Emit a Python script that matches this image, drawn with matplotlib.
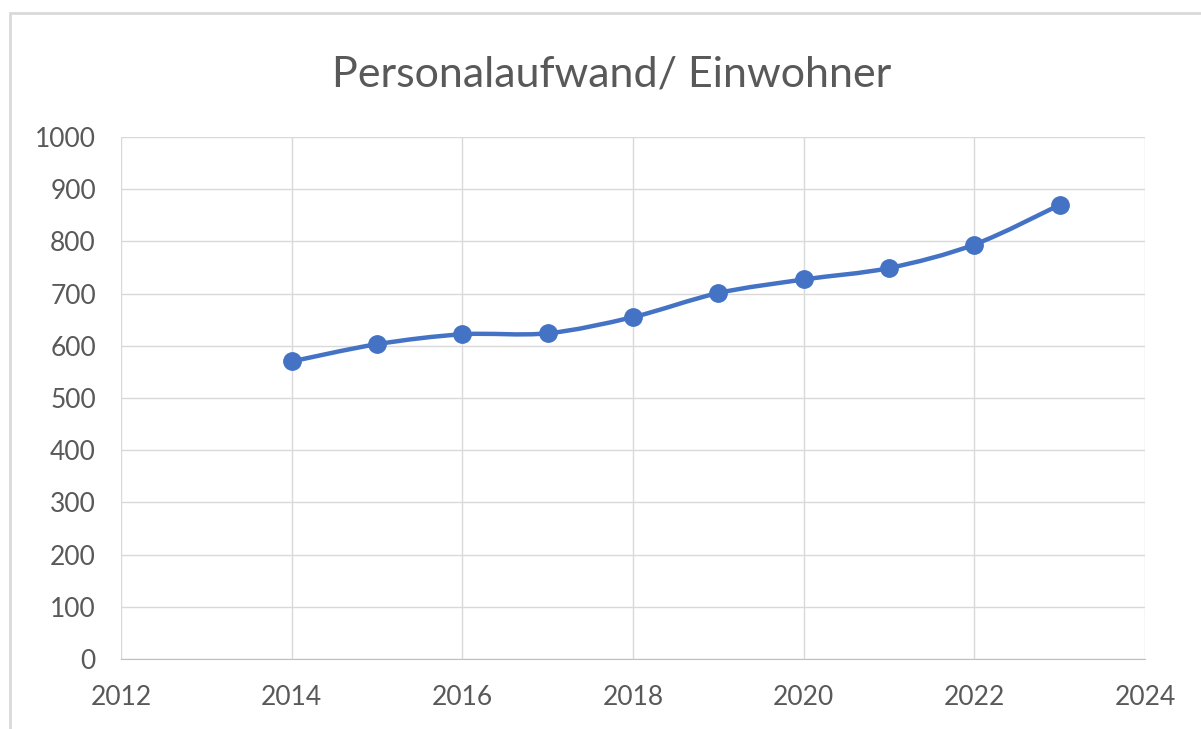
import numpy as np
import matplotlib.pyplot as plt
from matplotlib.path import Path
from matplotlib.patches import PathPatch, Rectangle

years = [2014, 2015, 2016, 2017, 2018, 2019, 2020, 2021, 2022, 2023]
values = [570, 603, 622, 624, 655, 701, 727, 749, 794, 870]
title = 'Personalaufwand/ Einwohner'

blue = '#4472C4'
grid = '#D9D9D9'
text = '#595959'

plt.rcParams['font.family'] = ['Lato', 'DejaVu Sans']


def smooth_path(x, y):
    # Catmull-Rom style Bezier segments, like Excel's "smoothed line"
    x = np.asarray(x, float)
    y = np.asarray(y, float)
    px = np.concatenate([[x[0]], x, [x[-1]]])
    py = np.concatenate([[y[0]], y, [y[-1]]])
    verts = [(x[0], y[0])]
    codes = [Path.MOVETO]
    for i in range(1, len(x)):
        c1 = (px[i] + (px[i + 1] - px[i - 1]) / 6, py[i] + (py[i + 1] - py[i - 1]) / 6)
        c2 = (px[i + 1] - (px[i + 2] - px[i]) / 6, py[i + 1] - (py[i + 2] - py[i]) / 6)
        verts += [c1, c2, (x[i], y[i])]
        codes += [Path.CURVE4] * 3
    return Path(verts, codes)


fig = plt.figure(figsize=(12.01, 7.29), dpi=100)
ax = fig.add_axes([0.1007, 0.0960, 0.8527, 0.7161])

ax.add_patch(PathPatch(smooth_path(years, values), facecolor='none',
                       edgecolor=blue, lw=3.2, capstyle='round', zorder=3))
ax.plot(years, values, 'o', color=blue, markersize=12.5, zorder=4)

ax.set_xlim(2012, 2024)
ax.set_ylim(0, 1000)
ax.set_xticks(range(2012, 2025, 2))
ax.set_yticks(range(0, 1001, 100))
ax.grid(True, color=grid, lw=1)
ax.set_axisbelow(True)
for s in ['top', 'right', 'left']:
    ax.spines[s].set_visible(False)
ax.spines['bottom'].set_color('#BFBFBF')
ax.tick_params(length=0, labelsize=19, labelcolor=text)
ax.tick_params(axis='x', pad=19)
ax.tick_params(axis='y', pad=18)

fig.text(0.509, 0.898, title, ha='center', va='center', fontsize=31, color=text)

fig.patches.append(Rectangle((10 / 1201, -0.1), 1.2, 1.1 - 13 / 729,
                             transform=fig.transFigure, fill=False,
                             edgecolor=grid, lw=2))

fig.savefig('out.png', dpi=100, facecolor='white')
